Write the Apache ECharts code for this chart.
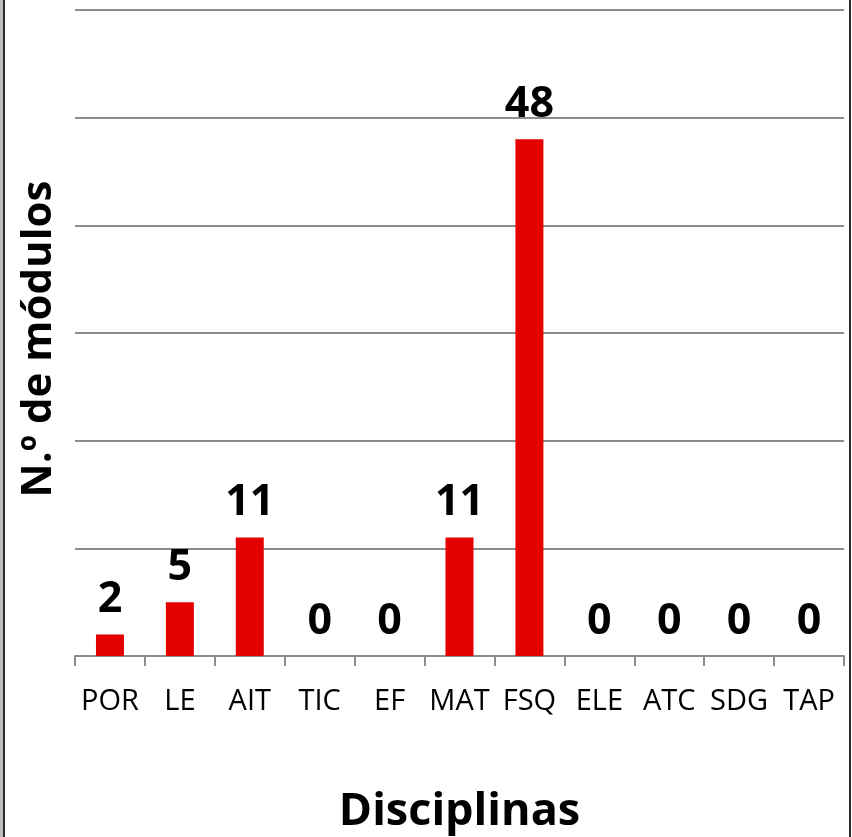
<!DOCTYPE html>
<html>
<head>
<meta charset="utf-8">
<script src="https://cdn.jsdelivr.net/npm/echarts@6/dist/echarts.min.js"></script>
<style>
  html, body { margin: 0; padding: 0; background: #fff; }
  #wrap { position: relative; width: 852px; height: 837px; }
  #chart { position: absolute; left: 0; top: 0; width: 852px; height: 837px; }
  .bl { position: absolute; left: 0; top: 0; width: 3px; height: 837px; background: #bdbdbd; }
  .bl2 { position: absolute; left: 3px; top: 0; width: 2px; height: 837px; background: #2b2b2b; }
  .br { position: absolute; left: 849px; top: 0; width: 2px; height: 837px; background: #2b2b2b; }
</style>
</head>
<body>
<div id="wrap">
  <div id="chart"></div>
  <div class="bl"></div><div class="bl2"></div><div class="br"></div>
</div>
<script>
const categories = ['POR', 'LE', 'AIT', 'TIC', 'EF', 'MAT', 'FSQ', 'ELE', 'ATC', 'SDG', 'TAP'];
const values = [2, 5, 11, 0, 0, 11, 48, 0, 0, 0, 0];
const yTicks = [0, 10, 20, 30, 40, 50, 60];
const xTitle = 'Disciplinas';
const yTitle = 'N.º de módulos';

const FONT = '"Open Sans", "Liberation Sans", sans-serif';
const chart = echarts.init(document.getElementById('chart'), null, { renderer: 'canvas' });
chart.setOption({
  animation: false,
  backgroundColor: '#ffffff',
  grid: { left: 75, right: 8, top: 10, bottom: 181, containLabel: false, outerBoundsMode: 'none' },
  xAxis: {
    type: 'category',
    data: categories,
    axisLine: { lineStyle: { color: '#8c8c8c', width: 2 } },
    axisTick: { show: true, length: 10, lineStyle: { color: '#8c8c8c', width: 2 } },
    axisLabel: { color: '#000', fontFamily: FONT, fontSize: 29, margin: 46, interval: 0, verticalAlign: 'middle' },
    name: xTitle,
    nameLocation: 'middle',
    nameGap: 156,
    nameTextStyle: { color: '#000', fontFamily: FONT, fontSize: 45, fontWeight: 'bold', verticalAlign: 'middle' }
  },
  yAxis: {
    type: 'value',
    min: yTicks[0],
    max: yTicks[yTicks.length - 1],
    interval: 10,
    axisLine: { show: false },
    axisTick: { show: false },
    axisLabel: { show: false },
    splitLine: { lineStyle: { color: '#8c8c8c', width: 2 } },
    name: yTitle,
    nameLocation: 'middle',
    nameGap: 36,
    nameTextStyle: { color: '#000', fontFamily: FONT, fontSize: 42, fontWeight: 'bold', verticalAlign: 'middle', padding: [0, 12, 0, 0] }
  },
  series: [{
    type: 'bar',
    data: values,
    barWidth: 28,
    itemStyle: { color: '#e50000' },
    label: {
      show: true,
      position: 'top',
      distance: 13,
      color: '#000',
      fontFamily: FONT,
      fontSize: 43,
      fontWeight: 'bold'
    }
  }]
});
</script>
</body>
</html>
